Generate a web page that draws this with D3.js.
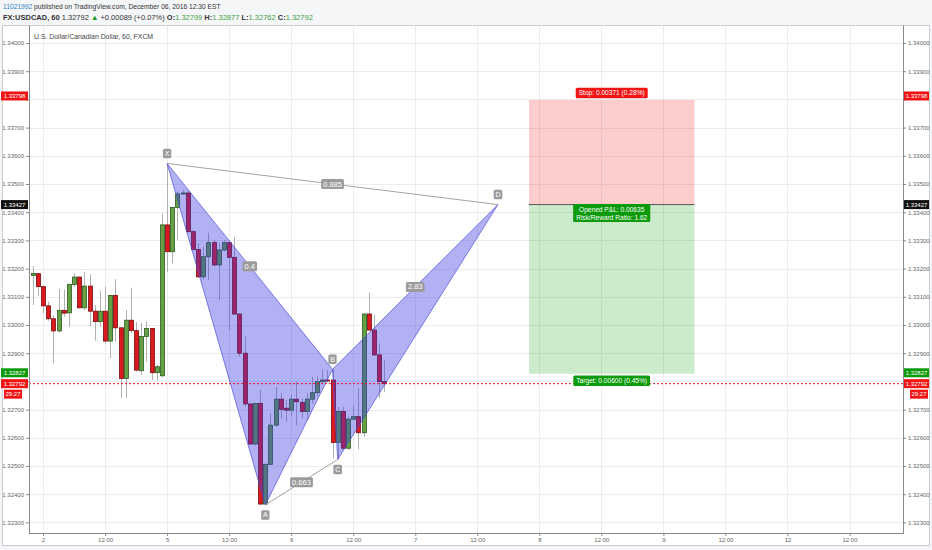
<!DOCTYPE html>
<html><head><meta charset="utf-8">
<script src="https://cdn.jsdelivr.net/npm/d3@7"></script>
<style>
body{margin:0;background:#f5f6f8;}
svg{display:block;font-family:"Liberation Sans",Arial,sans-serif;}
</style>
</head><body>
<svg id="c" width="932" height="550"></svg>
<script>
// ---- data ----
const firstBar = -2; // bar index of first candle (0 = Dec 2 00:00, hourly bars)
const opens  = [1.33176,1.33182,1.33136,1.33068,1.33022,1.32979,1.33052,1.33043,1.33144,1.33170,1.33061,1.33138,1.33049,1.33012,1.33049,1.32943,1.33105,1.32990,1.32810,1.33017,1.32980,1.32838,1.32959,1.32988,1.32831,1.32820,1.33355,1.33260,1.33417,1.33465,1.33468,1.33331,1.33268,1.33171,1.33242,1.33292,1.33213,1.33266,1.33292,1.33240,1.33039,1.32900,1.32720,1.32578,1.32722,1.32365,1.32506,1.32645,1.32737,1.32705,1.32698,1.32737,1.32725,1.32693,1.32737,1.32760,1.32799,1.32805,1.32805,1.32583,1.32693,1.32563,1.32666,1.32675,1.32618,1.33039,1.32982,1.32894,1.32799];
const highs  = [1.33209,1.33185,1.33140,1.33083,1.33035,1.33127,1.33125,1.33148,1.33183,1.33172,1.33189,1.33181,1.33071,1.33121,1.33136,1.33107,1.33163,1.32992,1.33053,1.33132,1.33010,1.33008,1.33012,1.32990,1.32858,1.33396,1.33573,1.33420,1.33473,1.33479,1.33479,1.33337,1.33290,1.33278,1.33327,1.33301,1.33290,1.33301,1.33301,1.33313,1.33042,1.32959,1.32722,1.32724,1.32770,1.32508,1.32687,1.32781,1.32758,1.32734,1.32752,1.32799,1.32740,1.32758,1.32817,1.32817,1.32843,1.32840,1.32843,1.32710,1.32710,1.32675,1.32716,1.32776,1.33042,1.33115,1.33035,1.32935,1.32877];
const lows   = [1.33071,1.33104,1.33042,1.33015,1.32864,1.32973,1.33029,1.32994,1.33136,1.33058,1.33053,1.32994,1.32944,1.32994,1.32937,1.32882,1.32941,1.32740,1.32740,1.32971,1.32834,1.32823,1.32870,1.32805,1.32803,1.32815,1.33189,1.33219,1.33301,1.33462,1.33329,1.33266,1.33166,1.33160,1.33160,1.33207,1.33089,1.33260,1.32982,1.33035,1.32888,1.32710,1.32574,1.32572,1.32364,1.32362,1.32504,1.32640,1.32669,1.32657,1.32675,1.32645,1.32669,1.32663,1.32722,1.32746,1.32793,1.32795,1.32527,1.32523,1.32557,1.32557,1.32663,1.32559,1.32604,1.32980,1.32890,1.32740,1.32762];
const closes = [1.33183,1.33136,1.33068,1.33022,1.32979,1.33052,1.33042,1.33144,1.33170,1.33061,1.33138,1.33049,1.33012,1.33049,1.32943,1.33105,1.32990,1.32810,1.33017,1.32980,1.32840,1.32959,1.32988,1.32831,1.32852,1.33355,1.33260,1.33417,1.33465,1.33468,1.33331,1.33268,1.33171,1.33242,1.33292,1.33213,1.33266,1.33292,1.33240,1.33039,1.32900,1.32720,1.32578,1.32722,1.32365,1.32506,1.32645,1.32737,1.32701,1.32698,1.32737,1.32728,1.32693,1.32737,1.32760,1.32799,1.32805,1.32803,1.32583,1.32693,1.32563,1.32666,1.32675,1.32618,1.33039,1.32982,1.32894,1.32799,1.32792];

const timeTickBars   = [0,12,24,36,48,60,72,84,96,108,120,132,144,156];
const timeTickLabels = ["2","12:00","5","12:00","6","12:00","7","12:00","8","12:00","9","12:00","12","12:00"];
const priceTicks = [1.323,1.324,1.325,1.326,1.327,1.328,1.329,1.330,1.331,1.332,1.333,1.334,1.335,1.336,1.337,1.338,1.339,1.340];

const patternNames  = ["X","A","B","C","D"];
const patternBars   = [24,43,56,57,88];
const patternPrices = [1.33573,1.32362,1.32843,1.32523,1.33427];
const ratioPairs  = [[0,4],[0,2],[1,3],[2,4]];
const ratioLabels = ["0.885","0.4","0.663","2.83"];

const positionBars = [94,126];
const stopPrice = 1.33798, entryPrice = 1.33427, targetPrice = 1.32827, lastPrice = 1.32792;
const positionTexts = ["Stop: 0.00371 (0.28%)","Opened P&L: 0.00635","Risk/Reward Ratio: 1.62","Target: 0.00600 (0.45%)"];
const countdown = "29:27";

// ---- layout ----
const svg = d3.select("#c");
const L = 29, R = 903, T = 25.5, B = 533;
const x = d3.scaleLinear().domain([-2.708, 166.344]).range([L, R]);
const y = d3.scaleLinear().domain([1.322624, 1.340621]).range([B, T]);
const fmt = d3.format(".5f");

// header
const h1 = svg.append("text").attr("x",3).attr("y",9).attr("font-size",6.7).attr("fill","#333");
h1.append("tspan").attr("fill","#2f7fc4").text("11021992");
h1.append("tspan").text(" published on TradingView.com, December 06, 2016 12:30 EST");
const h2 = svg.append("text").attr("x",3).attr("y",19.5).attr("font-size",7.5).attr("fill","#333");
h2.append("tspan").attr("font-weight","bold").text("FX:USDCAD, 60");
h2.append("tspan").text(" 1.32792 ");
h2.append("tspan").attr("fill","#1f9a2a").text("▲");
h2.append("tspan").text(" +0.00089 (+0.07%) ");
[["O:",opens[opens.length-1]],["H:",highs[highs.length-1]],["L:",lows[lows.length-1]],["C:",closes[closes.length-1]]].forEach((d,i)=>{
  h2.append("tspan").attr("font-weight","bold").text((i?" ":"")+d[0]);
  h2.append("tspan").attr("fill","#3ba33b").text(fmt(d[1]));
});

// frame
svg.append("rect").attr("x",2.5).attr("y",T).attr("width",927).attr("height",545.5-T)
  .attr("fill","#fff").attr("stroke","#c9cdd2");

// clip
svg.append("clipPath").attr("id","pc").append("rect").attr("x",L).attr("y",T).attr("width",R-L).attr("height",B-T);
const plot = svg.append("g").attr("clip-path","url(#pc)");

// grid
plot.selectAll(".hg").data(priceTicks).join("line")
  .attr("x1",L).attr("x2",R).attr("y1",d=>Math.round(y(d))+0.5).attr("y2",d=>Math.round(y(d))+0.5)
  .attr("stroke","#ececec");
plot.selectAll(".vg").data(timeTickBars).join("line")
  .attr("y1",T).attr("y2",B).attr("x1",d=>Math.round(x(d))+0.5).attr("x2",d=>Math.round(x(d))+0.5)
  .attr("stroke","#ececec");

// title
svg.append("text").attr("x",34).attr("y",38.5).attr("font-size",6.9).attr("fill","#444")
  .text("U.S. Dollar/Canadian Dollar, 60, FXCM");

// position tool boxes
const px0 = x(positionBars[0]), px1 = x(positionBars[1]);
plot.append("rect").attr("x",px0).attr("width",px1-px0).attr("y",y(stopPrice)).attr("height",y(entryPrice)-y(stopPrice))
  .attr("fill","rgba(245,0,0,0.2)");
plot.append("rect").attr("x",px0).attr("width",px1-px0).attr("y",y(entryPrice)).attr("height",y(targetPrice)-y(entryPrice))
  .attr("fill","rgba(0,150,0,0.2)");
plot.append("line").attr("x1",px0).attr("x2",px1).attr("y1",y(entryPrice)).attr("y2",y(entryPrice))
  .attr("stroke","#555").attr("stroke-width",1);

// candles
const bars = opens.map((o,i)=>({i:firstBar+i,o,h:highs[i],l:lows[i],c:closes[i]}));
const cg = plot.append("g");
cg.selectAll(".wick").data(bars).join("line")
  .attr("x1",d=>Math.round(x(d.i))+0.5).attr("x2",d=>Math.round(x(d.i))+0.5)
  .attr("y1",d=>y(d.h)).attr("y2",d=>y(d.l)).attr("stroke","#b0b0b0").attr("stroke-width",1);
cg.selectAll(".body").data(bars).join("rect")
  .attr("x",d=>Math.round(x(d.i))-1.5).attr("width",4)
  .attr("y",d=>y(Math.max(d.o,d.c)))
  .attr("height",d=>Math.max(1,Math.abs(y(d.o)-y(d.c))))
  .attr("fill",d=>d.c>=d.o?"#64a046":"#db1a20")
  .attr("stroke",d=>d.c>=d.o?"#2e5a1c":"#7a0c0c").attr("stroke-width",0.8);

// harmonic pattern
const pts = patternBars.map((b,i)=>[x(b),y(patternPrices[i])]);
const pg = plot.append("g");
[[0,1,2],[2,3,4]].forEach(tri=>{
  pg.append("path").attr("d","M"+tri.map(k=>pts[k].join(",")).join("L")+"Z")
    .attr("fill","rgba(55,55,225,0.39)").attr("stroke","rgba(80,80,220,0.7)").attr("stroke-width",1);
});
[[0,4],[1,3]].forEach(p=>{
  pg.append("line").attr("x1",pts[p[0]][0]).attr("y1",pts[p[0]][1]).attr("x2",pts[p[1]][0]).attr("y2",pts[p[1]][1])
    .attr("stroke","#a3a3a3").attr("stroke-width",1);
});
function tag(g, cx, cy, txt, fill, fs, padX, h){
  const t = g.append("text").attr("x",cx).attr("y",cy).attr("text-anchor","middle").attr("dominant-baseline","central")
    .attr("font-size",fs).attr("fill","#fff").text(txt);
  const w = t.node().getComputedTextLength()+2*padX;
  g.insert("rect","text").attr("x",cx-w/2).attr("y",cy-h/2).attr("width",w).attr("height",h).attr("rx",1.5).attr("fill",fill);
  return t;
}
ratioPairs.forEach((p,k)=>{
  const g = pg.append("g");
  tag(g,(pts[p[0]][0]+pts[p[1]][0])/2,(pts[p[0]][1]+pts[p[1]][1])/2,ratioLabels[k],"#9b9b9b",7.5,2,10);
});
const pOff = [-9,9,-9,9,-9];
patternNames.forEach((n,k)=>{
  const g = pg.append("g");
  tag(g,pts[k][0],pts[k][1]+pOff[k]+(pOff[k]<0?-1:1),n,"#9b9b9b",7,1.8,9.5);
});

// position labels
const pcx = (px0+px1)/2;
tag(svg.append("g"),pcx,y(stopPrice)-7,positionTexts[0],"#f01414",6.6,3,10.5);
{
  const g = svg.append("g");
  const cy = y(entryPrice)+8.5;
  const t1 = g.append("text").attr("x",pcx).attr("y",cy-4).attr("text-anchor","middle").attr("dominant-baseline","central")
    .attr("font-size",6.6).attr("fill","#fff").text(positionTexts[1]);
  const t2 = g.append("text").attr("x",pcx).attr("y",cy+4).attr("text-anchor","middle").attr("dominant-baseline","central")
    .attr("font-size",6.6).attr("fill","#fff").text(positionTexts[2]);
  const w = Math.max(t1.node().getComputedTextLength(),t2.node().getComputedTextLength())+6;
  g.insert("rect","text").attr("x",pcx-w/2).attr("y",cy-9).attr("width",w).attr("height",18).attr("rx",1.5).attr("fill","#0a9a0a");
}
tag(svg.append("g"),pcx,y(targetPrice)+7,positionTexts[3],"#0a9a0a",6.6,3,10.5);

// last price dotted line
plot.append("line").attr("x1",L).attr("x2",R).attr("y1",y(lastPrice)).attr("y2",y(lastPrice))
  .attr("stroke","#e8141b").attr("stroke-width",1).attr("stroke-dasharray","2,2");

// axes
const axL = svg.append("g").attr("transform",`translate(${L},0)`)
  .call(d3.axisLeft(y).tickValues(priceTicks).tickFormat(fmt).tickSize(3).tickPadding(2));
const axR = svg.append("g").attr("transform",`translate(${R},0)`)
  .call(d3.axisRight(y).tickValues(priceTicks).tickFormat(fmt).tickSize(3).tickPadding(2));
const axB = svg.append("g").attr("transform",`translate(0,${B})`)
  .call(d3.axisBottom(x).tickValues(timeTickBars).tickFormat((d,i)=>timeTickLabels[i]).tickSize(3).tickPadding(2));
[axL,axR,axB].forEach(a=>{
  a.select(".domain").remove();
  a.selectAll(".tick line").attr("stroke","#8a8a8a");
  a.selectAll(".tick text").attr("fill","#666").attr("font-size",6).attr("font-family","Liberation Sans, Arial, sans-serif");
});
// price labels hidden behind axis badges
const badgeYs = [y(stopPrice)-4, y(entryPrice), y(targetPrice)-1, y(lastPrice), y(lastPrice)+10.5];
[axL,axR].forEach(a=>a.selectAll(".tick text").attr("display",d=>badgeYs.some(b=>Math.abs(b-y(d))<7)?"none":null));
svg.append("line").attr("x1",L+0.5).attr("x2",L+0.5).attr("y1",T).attr("y2",B).attr("stroke","#8a8a8a");
svg.append("line").attr("x1",R+0.5).attr("x2",R+0.5).attr("y1",T).attr("y2",B).attr("stroke","#8a8a8a");
svg.append("line").attr("x1",L).attr("x2",R+1).attr("y1",B+0.5).attr("y2",B+0.5).attr("stroke","#8a8a8a");

// price badges
function badge(price, fill, txt, dy){
  const cy = y(price)+(dy||0);
  [[1,L-1],[R+1,929]].forEach(([a,b])=>{
    svg.append("rect").attr("x",a).attr("y",cy-4.5).attr("width",b-a).attr("height",9).attr("fill",fill);
    svg.append("text").attr("x",(a+b)/2).attr("y",cy).attr("text-anchor","middle").attr("dominant-baseline","central")
      .attr("font-size",6).attr("fill","#fff").text(txt);
  });
}
badge(stopPrice,"#f01414",fmt(stopPrice),-4);
badge(entryPrice,"#111",fmt(entryPrice),0);
badge(targetPrice,"#0a9a0a",fmt(targetPrice),-1);
badge(lastPrice,"#f01414",fmt(lastPrice),0);
// countdown
[[4,22],[910,928]].forEach(([a,b])=>{
  const cy = y(lastPrice)+10.5;
  svg.append("rect").attr("x",a).attr("y",cy-4.5).attr("width",b-a).attr("height",9).attr("fill","#f01414");
  svg.append("text").attr("x",(a+b)/2).attr("y",cy).attr("text-anchor","middle").attr("dominant-baseline","central")
    .attr("font-size",6).attr("fill","#fff").text(countdown);
});
</script>
</body></html>
